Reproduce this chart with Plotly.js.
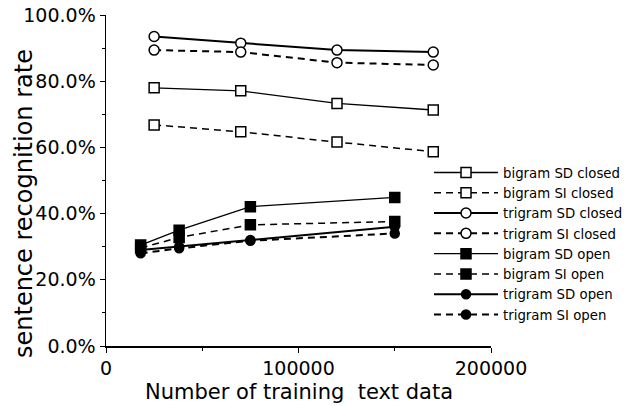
<!DOCTYPE html>
<html>
<head>
<meta charset="utf-8">
<script src="https://cdn.plot.ly/plotly-3.0.1.min.js"></script>
<style>html,body{margin:0;padding:0;background:#fff;}#chart{width:640px;height:406px;}</style>
</head>
<body>
<div id="chart"></div>
<script>
const closedX = [25000, 70000, 120000, 170000];
const openX = [18000, 38000, 75000, 150000];

const bigramSDClosed = [0.780, 0.771, 0.733, 0.713];
const bigramSIClosed = [0.668, 0.647, 0.616, 0.587];
const trigramSDClosed = [0.935, 0.915, 0.894, 0.888];
const trigramSIClosed = [0.894, 0.888, 0.856, 0.849];
const bigramSDOpen = [0.305, 0.350, 0.421, 0.449];
const bigramSIOpen = [0.296, 0.328, 0.366, 0.376];
const trigramSDOpen = [0.290, 0.300, 0.320, 0.360];
const trigramSIOpen = [0.280, 0.295, 0.318, 0.340];

const seriesNames = ["bigram SD closed", "bigram SI closed", "trigram SD closed", "trigram SI closed",
  "bigram SD open", "bigram SI open", "trigram SD open", "trigram SI open"];
const xTitle = "Number of training\u00a0 text data";
const yTitle = "sentence recognition rate";

const DASH = "7px,5px";
function tr(name, x, y, dash, symbol, filled, lw, size) {
  return {
    type: "scatter", mode: "lines+markers", name: name, x: x, y: y,
    line: {color: "#000", width: lw, dash: dash},
    marker: {symbol: symbol, size: size, color: filled ? "#000" : "#fff",
      line: {color: "#000", width: 1.5}}
  };
}

const data = [
  tr(seriesNames[0], closedX, bigramSDClosed, "solid", "square", false, 1.3, 10),
  tr(seriesNames[1], closedX, bigramSIClosed, DASH, "square", false, 1.5, 10),
  tr(seriesNames[2], closedX, trigramSDClosed, "solid", "circle", false, 2, 10),
  tr(seriesNames[3], closedX, trigramSIClosed, DASH, "circle", false, 2, 10),
  tr(seriesNames[4], openX, bigramSDOpen, "solid", "square", true, 1.3, 10),
  tr(seriesNames[5], openX, bigramSIOpen, DASH, "square", true, 1.5, 10),
  tr(seriesNames[6], openX, trigramSDOpen, "solid", "circle", true, 2, 9),
  tr(seriesNames[7], openX, trigramSIOpen, DASH, "circle", true, 2, 9)
];

const layout = {
  width: 640, height: 406,
  margin: {l: 106, r: 149, t: 15, b: 60},
  paper_bgcolor: "#fff", plot_bgcolor: "rgba(0,0,0,0)",
  showlegend: true,
  font: {family: "DejaVu Sans, sans-serif", color: "#000"},
  legend: {
    x: 0.839, y: 0.57, xanchor: "left", yanchor: "top",
    bgcolor: "rgba(255,255,255,0)", itemwidth: 64,
    font: {family: "DejaVu Sans, sans-serif", size: 13.3, color: "#000"},
    tracegroupgap: 0
  },
  xaxis: {
    range: [0, 200000], tickvals: [0, 100000, 200000], ticktext: ["0", "100000", "200000"],
    showline: true, linecolor: "#000", linewidth: 1.5, ticks: "outside", ticklen: 5, tickcolor: "#000",
    minor: {dtick: 50000, ticks: "outside", ticklen: 3, tickcolor: "#000"},
    showgrid: false, zeroline: false,
    tickfont: {family: "DejaVu Sans, sans-serif", size: 19}
  },
  yaxis: {
    range: [0, 1], dtick: 0.2, tickformat: ".1%",
    showline: true, linecolor: "#000", linewidth: 1.5, ticks: "outside", ticklen: 5, tickcolor: "#000",
    minor: {dtick: 0.1, ticks: "outside", ticklen: 3, tickcolor: "#000"},
    showgrid: false, zeroline: false,
    tickfont: {family: "DejaVu Sans, sans-serif", size: 19}
  },
  annotations: [
    {text: xTitle, xref: "paper", yref: "paper", x: 0.5, y: -0.139, xanchor: "center", yanchor: "middle",
      showarrow: false, font: {family: "DejaVu Sans, sans-serif", size: 21}},
    {text: yTitle, xref: "paper", yref: "paper", x: -0.213, y: 0.432, xanchor: "center", yanchor: "middle",
      textangle: -90, showarrow: false, font: {family: "DejaVu Sans, sans-serif", size: 24}}
  ]
};

Plotly.newPlot("chart", data, layout, {displayModeBar: false, staticPlot: true});
</script>
</body>
</html>
